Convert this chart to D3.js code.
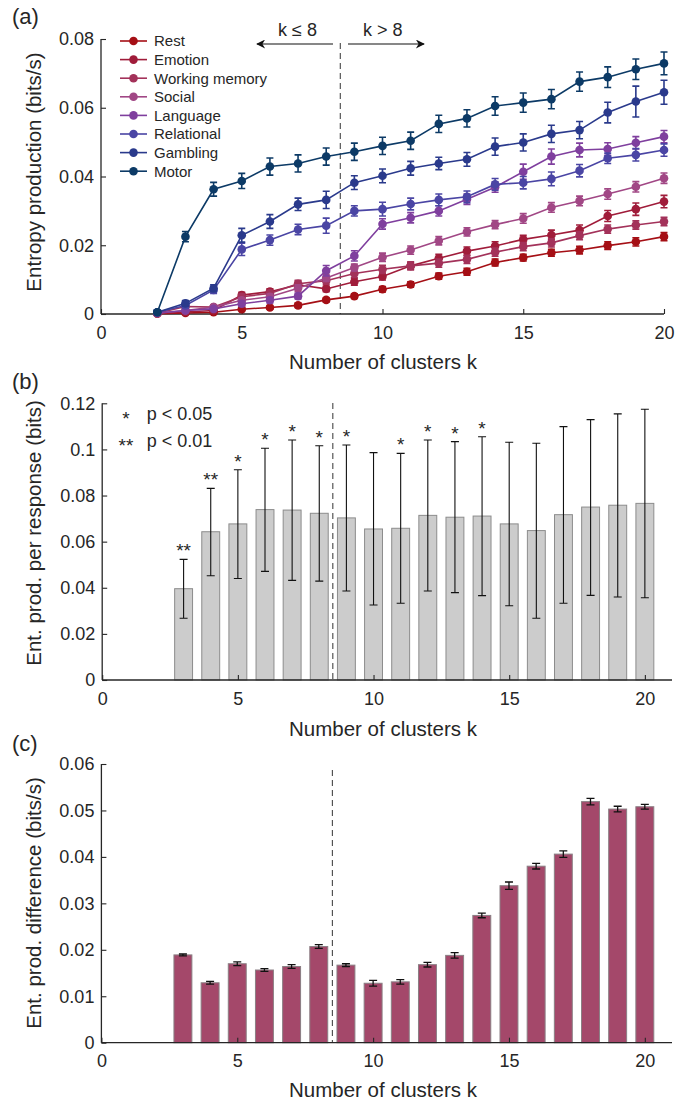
<!DOCTYPE html>
<html><head><meta charset="utf-8">
<script src="https://cdn.jsdelivr.net/npm/d3@7"></script>
<style>body{margin:0;background:#fff}svg{display:block}text{font-family:"Liberation Sans",Arial,sans-serif;fill:#262626}</style>
</head><body><svg id="c" width="694" height="1104"></svg>
<script>
// ---- data ----
const kA = d3.range(2, 21);
const seriesNames = ["Rest","Emotion","Working memory","Social","Language","Relational","Gambling","Motor"];
const seriesColors = ["#a50f15","#a01c3a","#a3325a","#a14785","#7f3f9e","#4a45a4","#2a3a8c","#0c3a66"];
const rest   = [0.0001,0.0003,0.0005,0.0014,0.0019,0.0025,0.0041,0.0052,0.0072,0.0086,0.0110,0.0123,0.0150,0.0164,0.0178,0.0186,0.0199,0.0210,0.0225];
const emotion= [0.0002,0.0006,0.0010,0.0055,0.0065,0.0085,0.0073,0.0094,0.0109,0.0140,0.0162,0.0183,0.0198,0.0217,0.0230,0.0244,0.0285,0.0305,0.0327];
const wm     = [0.0002,0.0022,0.0020,0.0050,0.0060,0.0088,0.0097,0.0118,0.0130,0.0140,0.0148,0.0159,0.0180,0.0196,0.0207,0.0228,0.0247,0.0259,0.0269];
const social = [0.0002,0.0010,0.0020,0.0040,0.0050,0.0075,0.0105,0.0135,0.0165,0.0186,0.0213,0.0239,0.0260,0.0278,0.0310,0.0329,0.0349,0.0370,0.0395];
const language=[0.0003,0.0010,0.0015,0.0030,0.0040,0.0052,0.0126,0.0169,0.0262,0.0280,0.0300,0.0334,0.0369,0.0414,0.0458,0.0477,0.0480,0.0498,0.0516];
const relational=[0.0005,0.0025,0.0070,0.0188,0.0215,0.0246,0.0257,0.0300,0.0305,0.0320,0.0332,0.0341,0.0377,0.0382,0.0393,0.0417,0.0453,0.0463,0.0477];
const gambling=[0.0005,0.0031,0.0075,0.0229,0.0269,0.0319,0.0332,0.0382,0.0402,0.0424,0.0438,0.0450,0.0487,0.0499,0.0524,0.0535,0.0586,0.0618,0.0645];
const motor  = [0.0005,0.0225,0.0363,0.0387,0.0429,0.0438,0.0458,0.0472,0.0489,0.0504,0.0553,0.0569,0.0605,0.0615,0.0625,0.0676,0.0689,0.0712,0.0729];
const seriesVals = [rest,emotion,wm,social,language,relational,gambling,motor];
const restErr    = [0.0001,0.0002,0.0003,0.0004,0.0005,0.0006,0.0006,0.0007,0.0008,0.0008,0.0009,0.0010,0.0010,0.0010,0.0010,0.0011,0.0011,0.0012,0.0012];
const emotionErr = [0.0002,0.0003,0.0005,0.0008,0.0008,0.0010,0.0008,0.0010,0.0010,0.0010,0.0012,0.0012,0.0012,0.0012,0.0014,0.0015,0.0016,0.0018,0.0018];
const wmErr      = [0.0002,0.0005,0.0005,0.0008,0.0008,0.0010,0.0010,0.0012,0.0012,0.0012,0.0012,0.0012,0.0012,0.0012,0.0012,0.0012,0.0012,0.0012,0.0012];
const socialErr  = [0.0002,0.0004,0.0005,0.0007,0.0008,0.0010,0.0010,0.0010,0.0012,0.0012,0.0012,0.0012,0.0012,0.0014,0.0014,0.0014,0.0015,0.0015,0.0015];
const languageErr= [0.0002,0.0005,0.0005,0.0008,0.0008,0.0008,0.0015,0.0015,0.0015,0.0015,0.0015,0.0015,0.0015,0.0022,0.0022,0.0020,0.0018,0.0018,0.0018];
const relationalErr=[0.0003,0.0008,0.0010,0.0018,0.0015,0.0015,0.0022,0.0015,0.0020,0.0017,0.0017,0.0017,0.0017,0.0018,0.0020,0.0018,0.0015,0.0018,0.0018];
const gamblingErr= [0.0003,0.0008,0.0010,0.0020,0.0020,0.0018,0.0025,0.0020,0.0020,0.0020,0.0018,0.0020,0.0025,0.0025,0.0025,0.0025,0.0030,0.0045,0.0035];
const motorErr   = [0.0003,0.0015,0.0020,0.0022,0.0025,0.0025,0.0025,0.0025,0.0025,0.0025,0.0025,0.0025,0.0027,0.0028,0.0028,0.0028,0.0030,0.0030,0.0033];
const seriesErr = [restErr,emotionErr,wmErr,socialErr,languageErr,relationalErr,gamblingErr,motorErr];

const kB = d3.range(3, 21);
const perResp   = [0.0396,0.0643,0.0677,0.0739,0.0737,0.0723,0.0703,0.0655,0.0658,0.0714,0.0706,0.0711,0.0677,0.0648,0.0717,0.0750,0.0758,0.0766];
const perRespHi = [0.0523,0.0831,0.0912,0.1005,0.1041,0.1016,0.1019,0.0986,0.0983,0.1041,0.1034,0.1055,0.1031,0.1027,0.1099,0.1129,0.1154,0.1174];
const perRespLo = [0.0268,0.0452,0.0440,0.0471,0.0432,0.0429,0.0386,0.0325,0.0333,0.0386,0.0379,0.0366,0.0322,0.0268,0.0333,0.0367,0.0360,0.0357];
const stars     = ["**","**","*","*","*","*","*","","*","*","*","*","","","","","",""];

const diff    = [0.0189,0.0129,0.0170,0.01565,0.0164,0.0207,0.0167,0.0128,0.0131,0.0168,0.0188,0.0274,0.0338,0.0380,0.0406,0.0519,0.0503,0.0508];
const diffErr = [0.0002,0.0003,0.0004,0.0003,0.0004,0.0004,0.0003,0.0006,0.0005,0.0005,0.0006,0.0005,0.0008,0.0006,0.0007,0.0007,0.0006,0.0005];

const xTicks = [0,5,10,15,20];
const yTicksA = [0,0.02,0.04,0.06,0.08];
const yTicksB = [0,0.02,0.04,0.06,0.08,0.1,0.12];
const yTicksC = [0,0.01,0.02,0.03,0.04,0.05,0.06];

// ---- drawing ----
const svg = d3.select("#c");
const axCol = "#262626";
const TICK = "18px", LAB = "20.5px";

function axes(g, x, y, xt, yt, yfmt){
  const gx = g.append("g").attr("transform",`translate(0,${y.range()[0]})`)
    .call(d3.axisBottom(x).tickValues(xt).tickSize(-5).tickPadding(12).tickFormat(d3.format("d")));
  const gy = g.append("g").attr("transform",`translate(${x.range()[0]},0)`)
    .call(d3.axisLeft(y).tickValues(yt).tickSize(-5).tickPadding(7).tickFormat(yfmt));
  [gx,gy].forEach(a=>{
    a.selectAll("path").attr("stroke",axCol).attr("stroke-width",1.3);
    a.selectAll("line").attr("stroke",axCol).attr("stroke-width",1.1);
    a.selectAll("text").style("font-size",TICK).attr("fill",axCol);
  });
  gx.select(".domain").attr("d",`M${x.range()[0]},0H${x.range()[1]}`);
  gy.select(".domain").attr("d",`M0,${y.range()[0]}V${y.range()[1]}`);
}
const fmtY = d => d===0 ? "0" : String(+d.toFixed(2));

// Panel A
{
  const x = d3.scaleLinear().domain([0,20]).range([101,664]);
  const y = d3.scaleLinear().domain([0,0.08]).range([314,39]);
  const g = svg.append("g");
  g.append("line").attr("x1",x(8.5)).attr("x2",x(8.5)).attr("y1",43).attr("y2",314)
    .attr("stroke","#333").attr("stroke-width",1).attr("stroke-dasharray","6,4");
  axes(g,x,y,xTicks,yTicksA,fmtY);
  const line = d3.line().x((d,i)=>x(kA[i])).y(d=>y(d));
  seriesVals.forEach((vals,si)=>{
    const c = seriesColors[si], errs = seriesErr[si];
    const s = g.append("g");
    s.append("path").attr("d",line(vals)).attr("fill","none").attr("stroke",c).attr("stroke-width",1.6);
    vals.forEach((v,i)=>{
      const err = errs[i];
      const xx = x(kA[i]);
      s.append("path").attr("d",`M${xx},${y(v-err)}V${y(v+err)}M${xx-3.5},${y(v-err)}h7M${xx-3.5},${y(v+err)}h7`)
        .attr("stroke",c).attr("stroke-width",1.6).attr("fill","none");
      s.append("circle").attr("cx",xx).attr("cy",y(v)).attr("r",4.3).attr("fill",c);
    });
  });
  // legend
  const lg = g.append("g");
  seriesNames.forEach((n,i)=>{
    const yy = 41 + i*18.6;
    lg.append("line").attr("x1",120).attr("x2",147).attr("y1",yy).attr("y2",yy).attr("stroke",seriesColors[i]).attr("stroke-width",1.6);
    lg.append("circle").attr("cx",133.5).attr("cy",yy).attr("r",4.3).attr("fill",seriesColors[i]);
    lg.append("text").attr("x",154).attr("y",yy+5.3).style("font-size","15px").text(n);
  });
  // arrows
  const defs = svg.append("defs");
  defs.append("marker").attr("id","arr").attr("viewBox","0 0 10 10").attr("refX",9).attr("refY",5)
    .attr("markerWidth",10).attr("markerHeight",9).attr("markerUnits","userSpaceOnUse").attr("orient","auto")
    .append("path").attr("d","M0,0L10,5L0,10L3,5Z").attr("fill","#111");
  g.append("line").attr("x1",333).attr("x2",257).attr("y1",44).attr("y2",44).attr("stroke","#111").attr("stroke-width",1.2).attr("marker-end","url(#arr)");
  g.append("line").attr("x1",348).attr("x2",424).attr("y1",44).attr("y2",44).attr("stroke","#111").attr("stroke-width",1.2).attr("marker-end","url(#arr)");
  g.append("text").attr("x",297.5).attr("y",36).attr("text-anchor","middle").style("font-size","18px").text("k ≤ 8");
  g.append("text").attr("x",382.7).attr("y",36).attr("text-anchor","middle").style("font-size","18px").text("k > 8");
  g.append("text").attr("x",383).attr("y",369).attr("text-anchor","middle").style("font-size",LAB).text("Number of clusters k");
  g.append("text").attr("transform",`translate(41,172) rotate(-90)`).attr("text-anchor","middle").style("font-size",LAB).text("Entropy production (bits/s)");
  g.append("text").attr("x",12).attr("y",24).style("font-size","22px").text("(a)");
}

// Panel B
{
  const x = d3.scaleLinear().domain([0,21]).range([102.2,672]);
  const y = d3.scaleLinear().domain([0,0.12]).range([680,403.3]);
  const g = svg.append("g");
  const bw = x(0.66)-x(0);
  kB.forEach((k,i)=>{
    g.append("rect").attr("x",x(k)-bw/2).attr("y",y(perResp[i])).attr("width",bw).attr("height",y(0)-y(perResp[i]))
      .attr("fill","#cccccc").attr("stroke","#8c8c8c").attr("stroke-width",1);
  });
  g.append("line").attr("x1",x(8.5)).attr("x2",x(8.5)).attr("y1",403).attr("y2",680)
    .attr("stroke","#333").attr("stroke-width",1).attr("stroke-dasharray","6,4");
  kB.forEach((k,i)=>{
    const xx = x(k);
    g.append("path").attr("d",`M${xx},${y(perRespLo[i])}V${y(perRespHi[i])}M${xx-4},${y(perRespLo[i])}h8M${xx-4},${y(perRespHi[i])}h8`)
      .attr("stroke","#111").attr("stroke-width",1.1).attr("fill","none");
    if(stars[i]) g.append("text").attr("x",xx).attr("y",y(perRespHi[i])-2).attr("text-anchor","middle").style("font-size","19px").text(stars[i]);
  });
  axes(g,x,y,xTicks,yTicksB,fmtY);
  g.append("text").attr("x",126).attr("y",425).attr("text-anchor","middle").style("font-size","19px").text("*");
  g.append("text").attr("x",146.7).attr("y",420).style("font-size","18px").text("p < 0.05");
  g.append("text").attr("x",126).attr("y",452).attr("text-anchor","middle").style("font-size","19px").text("**");
  g.append("text").attr("x",146.7).attr("y",447).style("font-size","18px").text("p < 0.01");
  g.append("text").attr("x",383).attr("y",736).attr("text-anchor","middle").style("font-size",LAB).text("Number of clusters k");
  g.append("text").attr("transform",`translate(41,533) rotate(-90)`).attr("text-anchor","middle").style("font-size",LAB).text("Ent. prod. per response (bits)");
  g.append("text").attr("x",12).attr("y",389).style("font-size","22px").text("(b)");
}

// Panel C
{
  const x = d3.scaleLinear().domain([0,21]).range([101.4,672]);
  const y = d3.scaleLinear().domain([0,0.06]).range([1042.7,764]);
  const g = svg.append("g");
  const bw = x(0.66)-x(0);
  kB.forEach((k,i)=>{
    g.append("rect").attr("x",x(k)-bw/2).attr("y",y(diff[i])).attr("width",bw).attr("height",y(0)-y(diff[i]))
      .attr("fill","#a4486a").attr("stroke","#8a7f84").attr("stroke-width",1);
  });
  g.append("line").attr("x1",x(8.5)).attr("x2",x(8.5)).attr("y1",770).attr("y2",1042)
    .attr("stroke","#333").attr("stroke-width",1).attr("stroke-dasharray","6,4");
  kB.forEach((k,i)=>{
    const xx = x(k), lo=y(diff[i]-diffErr[i]), hi=y(diff[i]+diffErr[i]);
    g.append("path").attr("d",`M${xx},${lo}V${hi}M${xx-4},${lo}h8M${xx-4},${hi}h8`)
      .attr("stroke","#111").attr("stroke-width",1.3).attr("fill","none");
  });
  axes(g,x,y,xTicks,yTicksC,fmtY);
  g.append("text").attr("x",383).attr("y",1097).attr("text-anchor","middle").style("font-size",LAB).text("Number of clusters k");
  g.append("text").attr("transform",`translate(41,903) rotate(-90)`).attr("text-anchor","middle").style("font-size",LAB).text("Ent. prod. difference (bits/s)");
  g.append("text").attr("x",12).attr("y",751).style("font-size","22px").text("(c)");
}
</script></body></html>
